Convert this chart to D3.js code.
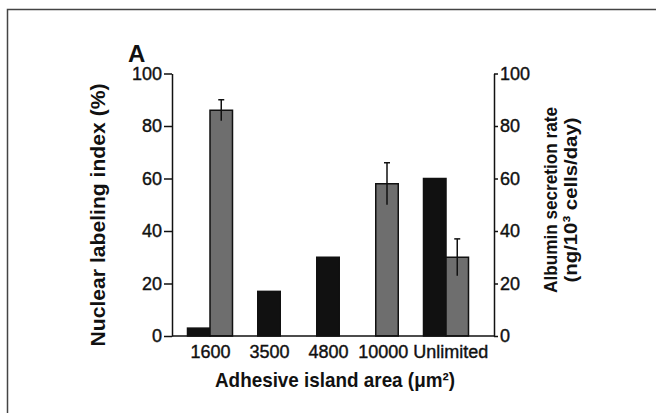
<!DOCTYPE html>
<html>
<head>
<meta charset="utf-8">
<script src="https://cdn.jsdelivr.net/npm/d3@7"></script>
<style>
  body { margin: 0; background: #fff; }
  svg { display: block; }
</style>
</head>
<body>
<svg class="chart"></svg>
<script>
const categories = ["1600", "3500", "4800", "10000", "Unlimited"];
const labelingIndex = [3, 17, 30, null, 60];   // black bars, left axis (%)
const albuminRate = [86, null, null, 58, 30];  // gray bars, right axis
const albuminErr = [4, null, null, 8, 7];
const yTicks = [0, 20, 40, 60, 80, 100];

const width = 656, height = 413
const margin = {top: 73.5, right: 162, bottom: 77, left: 172}
const barWidth = 22.5

const svg = d3.select(".chart")
    .attr("width", width)
    .attr("height", height)
    .style("font-family", "'Liberation Sans', Arial, sans-serif")

// frame round the figure (open on right and bottom, cut by the crop)
svg.append("path")
    .attr("d", `M7.5,${height}V9.5H${width}`)
    .attr("fill", "none")
    .attr("stroke", "#444")
    .attr("stroke-width", 1.5)

var x = d3.scalePoint()
    .domain(categories)
    .range([margin.left + 38, width - margin.right - 48])

var y = d3.scaleLinear() // both axes share 0-100
    .domain([0, 100])
    .range([height - margin.bottom, margin.top])

const rows = categories.map((c, i) => ({
    cat: c,
    bars: [
        {key: "label", value: labelingIndex[i]},
        {key: "albumin", value: albuminRate[i], err: albuminErr[i]}
    ].filter(b => b.value != null)
}))

const groups = svg.append("g")
    .selectAll("g")
    .data(rows)
    .enter().append("g")

groups.each(function (d) {
    // bars present in a group sit side by side round the category point
    const sub = d3.scaleBand()
        .domain(d.bars.map(b => b.key))
        .range([x(d.cat) - d.bars.length * barWidth / 2, x(d.cat) + d.bars.length * barWidth / 2])
    const g = d3.select(this)

    g.selectAll("rect")
        .data(d.bars)
        .enter().append("rect")
        .attr("x", b => sub(b.key))
        .attr("width", sub.bandwidth())
        .attr("y", b => y(b.value))
        .attr("height", b => y(0) - y(b.value))
        .attr("fill", b => b.key == "label" ? "#111" : "#6e6e6e")
        .attr("stroke", "#111")
        .attr("stroke-width", 1.5)

    const eb = g.selectAll("g.err")
        .data(d.bars.filter(b => b.err != null))
        .enter().append("g").attr("class", "err")
        .attr("stroke", "#111")
        .attr("stroke-width", 1.5)
    eb.append("line")
        .attr("x1", b => sub(b.key) + sub.bandwidth() / 2)
        .attr("x2", b => sub(b.key) + sub.bandwidth() / 2)
        .attr("y1", b => y(b.value + b.err))
        .attr("y2", b => y(b.value - b.err))
    eb.append("line")
        .attr("x1", b => sub(b.key) + sub.bandwidth() / 2 - 3)
        .attr("x2", b => sub(b.key) + sub.bandwidth() / 2 + 3)
        .attr("y1", b => y(b.value + b.err))
        .attr("y2", b => y(b.value + b.err))
})

// axes
const left = svg.append("g")
    .attr("transform", `translate(${margin.left},0)`)
    .call(d3.axisLeft(y).tickValues(yTicks).tickSize(8).tickSizeOuter(0).tickPadding(2))
const right = svg.append("g")
    .attr("transform", `translate(${width - margin.right},0)`)
    .call(d3.axisRight(y).tickValues(yTicks).tickSize(4).tickSizeOuter(0).tickPadding(2))
const bottom = svg.append("g")
    .attr("transform", `translate(0,${height - margin.bottom})`)
    .call(d3.axisBottom(x).tickSize(0).tickPadding(9))
bottom.select(".domain").attr("d", `M${margin.left},0H${width - margin.right}`)

svg.selectAll(".domain, .tick line")
    .attr("stroke", "#111")
    .attr("stroke-width", 1.5)
svg.selectAll(".tick text")
    .attr("fill", "#111")
    .attr("stroke", "#111")
    .attr("stroke-width", 0.4)
    .style("font-size", "18px")
    .style("font-family", "'Liberation Sans', Arial, sans-serif")

// push apart category labels that would touch (10000 / Unlimited)
const xl = bottom.selectAll(".tick text").nodes()
for (let i = 1; i < xl.length; i++) {
    const a = xl[i - 1].getBBox(), b = xl[i].getBBox()
    const pa = +d3.select(xl[i - 1].parentNode).attr("transform").match(/translate\(([-\d.]+)/)[1] + (+xl[i - 1].getAttribute("dx") || 0)
    const pb = +d3.select(xl[i].parentNode).attr("transform").match(/translate\(([-\d.]+)/)[1]
    const over = (pa + a.x + a.width + 5) - (pb + b.x)
    if (over > 0) {
        xl[i - 1].setAttribute("dx", (+xl[i - 1].getAttribute("dx") || 0) - over / 2)
        xl[i].setAttribute("dx", over / 2)
    }
}

// titles
function title(sel, size, len) {
    return sel.attr("class", "title")
        .attr("text-anchor", "middle")
        .attr("fill", "#111")
        .style("font-weight", "bold")
        .style("font-size", size + "px")
        .style("font-family", "'Liberation Sans Narrow', 'Liberation Sans', Arial, sans-serif")
        .attr("textLength", len).attr("lengthAdjust", "spacingAndGlyphs")
}

svg.append("text")
    .attr("x", 128).attr("y", 62)
    .attr("fill", "#111")
    .style("font-weight", "bold").style("font-size", "24px")
    .text("A")

svg.append("text")
    .attr("x", 335).attr("y", 387)
    .call(title, 21, 240)
    .text("Adhesive island area (\u03bcm\u00b2)")

svg.append("text")
    .attr("transform", "translate(105,215) rotate(-90)")
    .call(title, 21, 263)
    .text("Nuclear labeling index (%)")

svg.append("text")
    .attr("transform", "translate(557,200) rotate(-90)")
    .call(title, 19, 186)
    .text("Albumin secretion rate")

svg.append("text")
    .attr("transform", "translate(577,200) rotate(-90)")
    .call(title, 19, 165)
    .text("(ng/10\u00b3 cells/day)")
</script>
</body>
</html>
